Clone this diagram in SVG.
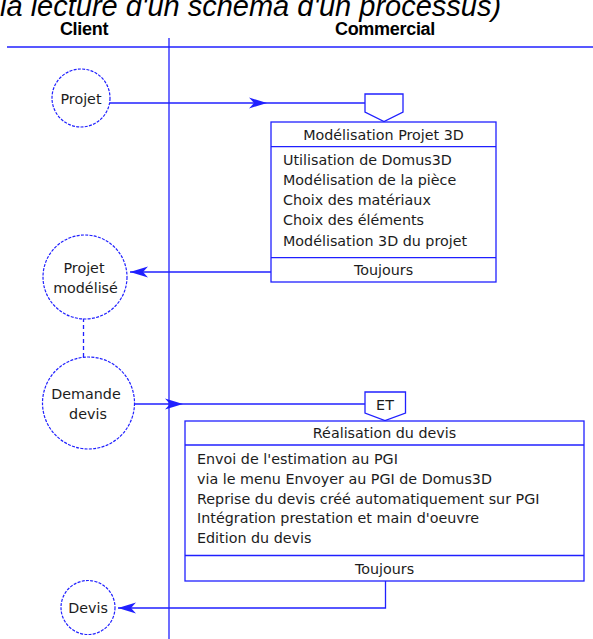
<svg xmlns="http://www.w3.org/2000/svg" width="593" height="639" viewBox="0 0 593 639">
<defs>
<style>
.ln{fill:none;stroke:#2020ff;stroke-width:1.3}
.bx{fill:#fff;stroke:#2020ff;stroke-width:1.3}
.cir{fill:#fff;stroke:#2020ff;stroke-width:1.2;stroke-dasharray:3 1.3}
.t{font-family:"DejaVu Sans",sans-serif;font-size:14.3px;fill:#1c1c1c}
.c{text-anchor:middle}
.hd{font-family:"Liberation Sans",Arial,sans-serif;font-size:18px;font-weight:bold;fill:#000;text-anchor:middle;letter-spacing:-0.3px}
.arr{marker-mid:url(#ah)}
.arrE{marker-end:url(#ah)}
</style>
<marker id="ah" viewBox="0 -6 18 12" refX="18" refY="0" markerWidth="18" markerHeight="12" markerUnits="userSpaceOnUse" orient="auto">
<path d="M0,-5.5 L18,0 L0,5.5 L5,0 Z" fill="#2020ff"/>
</marker>
</defs>
<rect x="0" y="0" width="593" height="639" fill="#fff"/>
<text x="0" y="15.5" font-family="Liberation Sans, Arial, sans-serif" font-size="29" font-style="italic" fill="#000">la lecture d'un schéma d'un processus)</text>
<g id="lanes">
<line class="ln" x1="7" y1="47" x2="593" y2="47"/>
<line class="ln" x1="169" y1="38" x2="169" y2="639"/>
<text class="hd" x="84" y="34.5">Client</text>
<text class="hd" x="385" y="34.5">Commercial</text>
</g>
<g id="connectors">
<path class="ln arr" d="M110,103 L267,103 L365,103"/>
<path class="ln arrE" d="M271,272 L130,272"/>
<line class="ln" x1="83.5" y1="318" x2="83.5" y2="357" stroke-dasharray="4 3"/>
<path class="ln arr" d="M134,404 L183,404 L365,404"/>
<path class="ln arrE" d="M385.5,581 L385.5,608 L118,608"/>
</g>
<g id="projet">
<circle class="cir" cx="81" cy="98" r="29"/>
<text class="t c" x="81" y="104">Projet</text>
</g>
<g id="projet-modelise">
<circle class="cir" cx="85" cy="277" r="42"/>
<text class="t c" x="84" y="273">Projet</text>
<text class="t c" x="85.5" y="293">modélisé</text>
</g>
<g id="demande-devis">
<circle class="cir" cx="88.5" cy="403" r="46"/>
<text class="t c" x="86" y="399">Demande</text>
<text class="t c" x="88" y="418.5">devis</text>
</g>
<g id="devis">
<circle class="cir" cx="88" cy="607.5" r="27"/>
<text class="t c" x="88" y="613">Devis</text>
</g>
<g id="in1">
<path class="bx" d="M365,94 L403,94 L403,112 L384,121.5 L365,112 Z"/>
</g>
<g id="modelisation">
<rect class="bx" x="271" y="122" width="225" height="160"/>
<line class="ln" x1="271" y1="146.7" x2="496" y2="146.7"/>
<line class="ln" x1="271" y1="257.7" x2="496" y2="257.7"/>
<text class="t c" x="383.5" y="140">Modélisation Projet 3D</text>
<text class="t" x="283" y="165">Utilisation de Domus3D</text>
<text class="t" x="283" y="185">Modélisation de la pièce</text>
<text class="t" x="283" y="205">Choix des matériaux</text>
<text class="t" x="283" y="225">Choix des éléments</text>
<text class="t" x="283" y="245.5">Modélisation 3D du projet</text>
<text class="t c" x="383.5" y="275">Toujours</text>
</g>
<g id="et">
<path class="bx" d="M365,392 L405.5,392 L405.5,413 L385,420.5 L365,413 Z"/>
<text class="t c" x="385" y="409.5">ET</text>
</g>
<g id="realisation">
<rect class="bx" x="185" y="421" width="399" height="160"/>
<line class="ln" x1="185" y1="445" x2="584" y2="445"/>
<line class="ln" x1="185" y1="555.5" x2="584" y2="555.5"/>
<text class="t c" x="384.5" y="437.5">Réalisation du devis</text>
<text class="t" x="197" y="463.5">Envoi de l'estimation au PGI</text>
<text class="t" x="197" y="483.5">via le menu Envoyer au PGI de Domus3D</text>
<text class="t" x="197" y="503.5">Reprise du devis créé automatiquement sur PGI</text>
<text class="t" x="197" y="523">Intégration prestation et main d'oeuvre</text>
<text class="t" x="197" y="542.5">Edition du devis</text>
<text class="t c" x="384.5" y="573.5">Toujours</text>
</g>
</svg>
